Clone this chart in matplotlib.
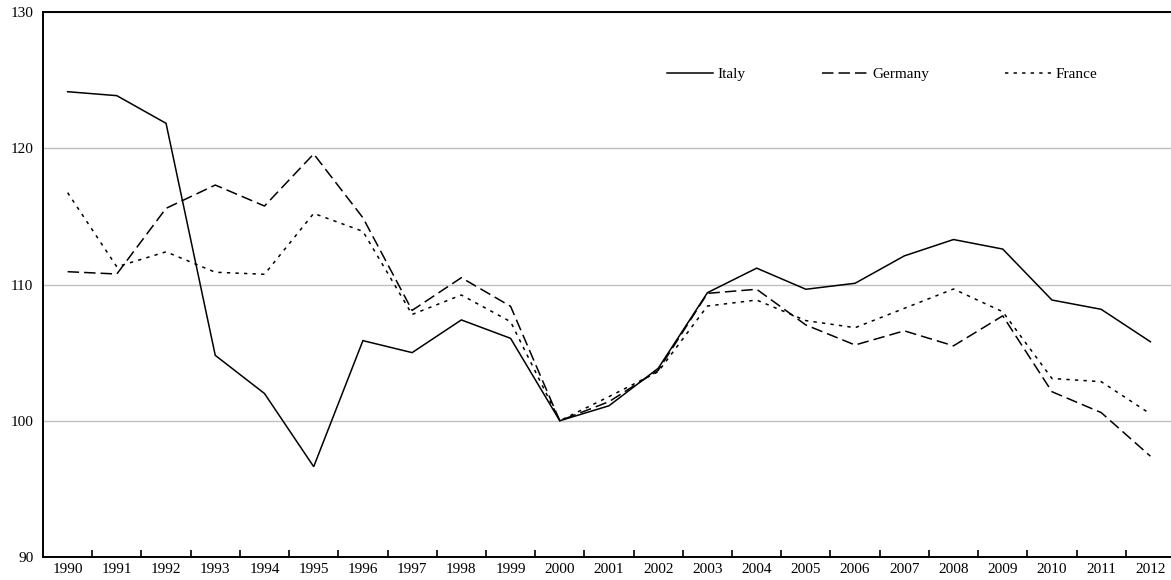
import matplotlib
matplotlib.use("Agg")
import matplotlib.pyplot as plt
import numpy as np

years = [str(y) for y in range(1990, 2013)]
italy = [124.15, 123.86, 121.83, 104.8, 102.0, 96.63, 105.88, 105.0, 107.4, 106.05,
         100.0, 101.1, 103.85, 109.4, 111.2, 109.65, 110.09, 112.1, 113.3, 112.6,
         108.86, 108.18, 105.8]
germany = [110.94, 110.77, 115.59, 117.3, 115.76, 119.58, 114.9, 108.1, 110.5, 108.4,
           100.0, 101.4, 103.7, 109.35, 109.65, 107.03, 105.56, 106.6, 105.5, 107.7,
           102.13, 100.6, 97.4]
france = [116.74, 111.3, 112.4, 110.9, 110.75, 115.22, 113.9, 107.8, 109.23, 107.27,
          100.0, 101.77, 103.6, 108.42, 108.86, 107.35, 106.83, 108.25, 109.67, 108.0,
          103.1, 102.87, 100.5]
yticks = [90, 100, 110, 120, 130]

plt.rcParams['font.family'] = ['Liberation Serif', 'DejaVu Serif']
plt.rcParams['font.size'] = 11

W, H = 1171, 580
fig = plt.figure(figsize=(W / 100, H / 100), dpi=100)
ax = fig.add_axes([43 / W, (H - 557) / H, (1175 - 43) / W, 545 / H])

x = np.arange(len(years))
ax.plot(x, italy, color='black', lw=1.1, label='Italy', solid_joinstyle='miter')
ax.plot(x, germany, color='black', lw=1.1, dashes=(7.5, 3.3), label='Germany')
ax.plot(x, france, color='black', lw=1.1, dashes=(2.2, 3.4), label='France')

ax.set_xlim(-0.5, len(years) - 0.5)
ax.set_ylim(90, 130)
ax.set_yticks(yticks)
ax.set_yticklabels([str(v) for v in yticks])
ax.tick_params(axis='y', length=0, pad=7)
ax.yaxis.grid(True, color='#c0c0c0', lw=1.0)
ax.set_axisbelow(True)

ax.set_xticks(x)
ax.set_xticklabels(years)
ax.tick_params(axis='x', which='major', length=0, pad=4)
ax.set_xticks(np.arange(0.5, len(years) - 0.5, 1.0), minor=True)
ax.tick_params(axis='x', which='minor', direction='in', length=5, width=1.2, color='black')

for s in ['left', 'bottom', 'top']:
    ax.spines[s].set_color('black')
    ax.spines[s].set_linewidth(1.4)
ax.spines['right'].set_visible(False)

leg = ax.legend(loc='center left', bbox_to_anchor=(667 / W, 1 - 74 / H),
                bbox_transform=fig.transFigure, ncol=3, frameon=False,
                borderpad=0, borderaxespad=0, handlelength=3.0, handletextpad=0.3,
                columnspacing=5.0, fontsize=11)

fig.savefig('out.png', dpi=100)
